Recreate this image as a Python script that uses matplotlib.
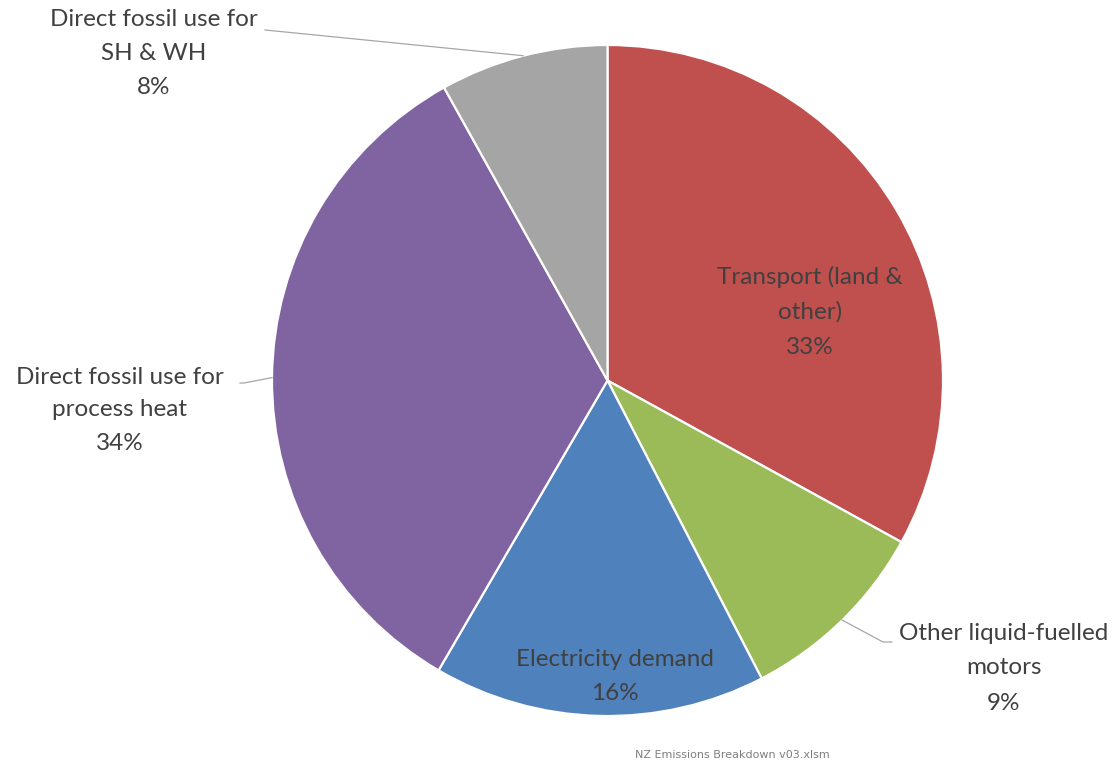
import matplotlib
matplotlib.use("Agg")
import matplotlib.pyplot as plt

# data (clockwise from 12 o'clock)
categories = ["Transport (land &\nother)", "Other liquid-fuelled\nmotors", "Electricity demand",
              "Direct fossil use for\nprocess heat", "Direct fossil use for\nSH & WH"]
values = [33.0, 9.4, 16.0, 33.5, 8.1]
pct_labels = ["33%", "9%", "16%", "34%", "8%"]
colors = ["#C0504D", "#9BBB59", "#4F81BD", "#8064A2", "#A5A5A5"]
footnote = "NZ Emissions Breakdown v03.xlsm"

W, H = 1118, 762
fig = plt.figure(figsize=(W / 100, H / 100), dpi=100)
ax = fig.add_axes([0, 0, 1, 1])

cx, cy, R = 607.5, 380.5, 335.5
# y axis inverted -> counterclock=True renders clockwise on screen; startangle -90 = top
wedges, _ = ax.pie(values, colors=colors, center=(cx, cy), radius=R,
                   startangle=-90, counterclock=True,
                   wedgeprops=dict(edgecolor="white", linewidth=1.6),
                   frame=True)
ax.set_xlim(0, W)
ax.set_ylim(H, 0)
ax.set_aspect("equal")
ax.axis("off")

FONT = ["Lato", "DejaVu Sans"]
TC = "#404040"
FS = 17.5


def lines(x, ys, texts):
    for y, t in zip(ys, texts):
        ax.text(x, y, t, ha="center", va="center", fontsize=FS, color=TC, family=FONT)


cat_lines = [c.split("\n") for c in categories]
# Transport (inside)
lines(810, [277, 312, 347], cat_lines[0] + [pct_labels[0]])
# Other liquid-fuelled motors (outside)
lines(1004, [633, 668, 703], cat_lines[1] + [pct_labels[1]])
# Electricity demand (inside)
lines(615, [660, 693], cat_lines[2] + [pct_labels[2]])
# Process heat (outside)
lines(120, [377, 410, 443], cat_lines[3] + [pct_labels[3]])
# SH & WH (outside)
lines(154, [20, 54, 87], cat_lines[4] + [pct_labels[4]])

LC = "#A6A6A6"
ax.plot([265, 523], [30, 55.7], color=LC, lw=0.9)
ax.plot([240, 244, 272], [383, 383, 377.6], color=LC, lw=0.9)
ax.plot([892, 883, 842], [642, 642, 620], color=LC, lw=0.9)

ax.text(732, 755, footnote, ha="center", va="center", fontsize=8,
        color="#7F7F7F", family=["DejaVu Sans"])

fig.savefig("out.png", dpi=100)
